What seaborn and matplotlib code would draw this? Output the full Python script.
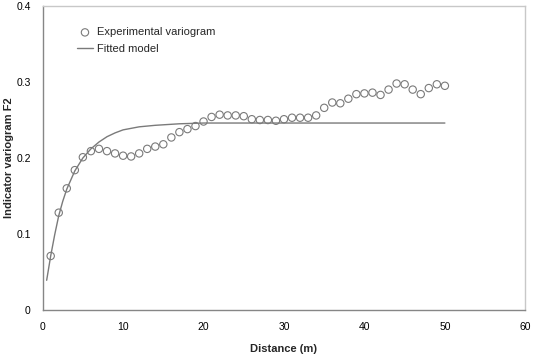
import numpy as np
import pandas as pd
import seaborn as sns
from matplotlib import pyplot as plt

# experimental variogram (lag distance in m, indicator variogram F2)
lag = list(range(1, 51))
gamma_exp = [0.071, 0.128, 0.160, 0.184, 0.201, 0.209, 0.212, 0.209, 0.206, 0.203,
             0.202, 0.206, 0.212, 0.215, 0.218, 0.227, 0.234, 0.238, 0.242, 0.248,
             0.254, 0.257, 0.256, 0.256, 0.255, 0.251, 0.250, 0.250, 0.249, 0.251,
             0.253, 0.253, 0.253, 0.256, 0.266, 0.273, 0.272, 0.278, 0.284, 0.285,
             0.286, 0.283, 0.290, 0.298, 0.297, 0.290, 0.284, 0.292, 0.297, 0.295]

# fitted model
model_dist = [0.5, 1, 1.5, 2, 2.5, 3, 4, 5, 6, 7, 8, 9, 10, 12, 14, 17, 20, 30, 40, 50]
model_gamma = [0.039, 0.071, 0.099, 0.124, 0.143, 0.159, 0.183, 0.200, 0.212, 0.221,
               0.228, 0.233, 0.237, 0.241, 0.243, 0.245, 0.246, 0.246, 0.246, 0.246]

pts = pd.DataFrame({'Distance': lag, 'Gamma': gamma_exp})
mdl = pd.DataFrame({'Distance': model_dist, 'Gamma': model_gamma})

sns.set_style('white')
plt.rcParams['font.family'] = ['Liberation Sans', 'DejaVu Sans']

fig = plt.figure(figsize=(5.33, 3.55), dpi=100)
ax = fig.add_axes([0.080, 0.127, 0.9056, 0.856])

sns.scatterplot(x='Distance', y='Gamma', data=pts, ax=ax, marker='o', s=28,
                facecolor='none', edgecolor='#7a7a7a', linewidth=0.8,
                label='Experimental variogram', zorder=3)
sns.lineplot(x='Distance', y='Gamma', data=mdl, ax=ax, color='#7a7a7a',
             linewidth=1.0, label='Fitted model')

ax.set_xlim(0, 60)
ax.set_ylim(0, 0.4)
ax.set_xticks([0, 10, 20, 30, 40, 50, 60])
ax.set_yticks([0, 0.1, 0.2, 0.3, 0.4])
ax.set_yticklabels(['0', '0.1', '0.2', '0.3', '0.4'])

ax.set_xlabel('Distance (m)', fontsize=8, fontweight='bold', labelpad=9)
ax.set_ylabel('Indicator variogram F2', fontsize=8, fontweight='bold', labelpad=2)

for side in ['left', 'bottom']:
    ax.spines[side].set_color('#868686')
    ax.spines[side].set_linewidth(1.0)
for side in ['top', 'right']:
    ax.spines[side].set_color('#c8c8c8')
    ax.spines[side].set_linewidth(1.0)

ax.tick_params(axis='both', direction='inout', length=5, width=0.8,
               color='#868686', labelsize=7.5, labelcolor='black')
ax.tick_params(axis='x', pad=6)
ax.tick_params(axis='y', pad=6)

ax.legend(loc='upper left', bbox_to_anchor=(0.071, 0.93), frameon=False,
          fontsize=8, handlelength=1.45, handletextpad=0.35, labelspacing=0.6,
          borderaxespad=0, borderpad=0)

fig.savefig('out.png', dpi=100)
